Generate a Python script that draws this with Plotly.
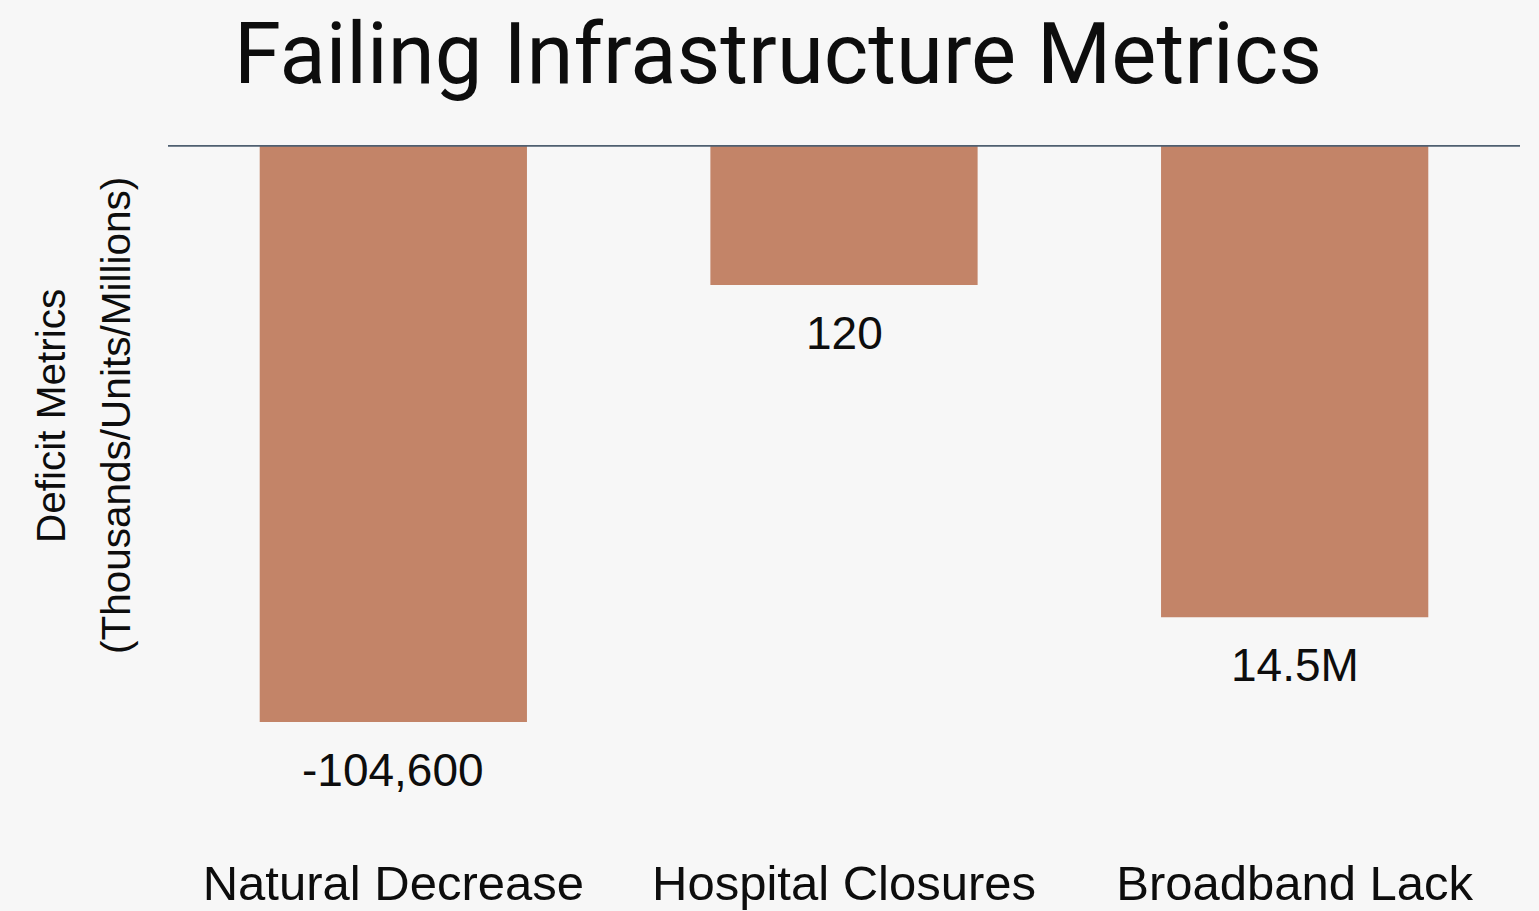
import plotly.graph_objects as go

categories = ["Natural Decrease", "Hospital Closures", "Broadband Lack"]
bar_values = [-104.6, -25.4, -85.6]
value_labels = ["-104,600", "120", "14.5M"]

title_text = "Failing Infrastructure Metrics"
y_title_lines = ["Deficit Metrics", "(Thousands/Units/Millions)"]

bar_color = "#C38468"
bg = "#F7F7F7"

PLOT_TOP, PLOT_BOTTOM = 145, 850

fig = go.Figure()
fig.add_trace(go.Bar(
    x=categories,
    y=bar_values,
    marker=dict(color=bar_color, line=dict(width=0)),
    width=0.593,
    hoverinfo="skip",
))

for c, v, t in zip(categories, bar_values, value_labels):
    fig.add_annotation(
        x=c, y=v, text=t, showarrow=False,
        xref="x", yref="y", yanchor="top", yshift=-20,
        font=dict(family="Liberation Sans, Arial, sans-serif", size=46, color="#0d0d0d"),
    )

for line_text, px_x in zip(y_title_lines, [51, 116]):
    fig.add_annotation(
        text=line_text, xref="paper", yref="paper",
        x=(px_x - 168) / 1352, y=(PLOT_BOTTOM - 416) / (PLOT_BOTTOM - PLOT_TOP),
        xanchor="center", yanchor="middle", textangle=-90, showarrow=False,
        font=dict(family="Liberation Sans, Arial, sans-serif", size=40.5, color="#0d0d0d"),
    )

fig.add_shape(type="line", xref="paper", yref="y", x0=0, x1=1, y0=0, y1=0,
              line=dict(color="#4F5F70", width=3.5), layer="above")

fig.update_layout(
    width=1539, height=911,
    paper_bgcolor=bg, plot_bgcolor=bg,
    margin=dict(l=168, r=19, t=PLOT_TOP, b=911 - PLOT_BOTTOM, autoexpand=False),
    showlegend=False,
    title=dict(text=title_text, x=0.5055, xref="container", xanchor="center",
               y=1 - 53/911, yref="container", yanchor="middle",
               font=dict(family="Roboto, Liberation Sans, sans-serif", size=85, color="#0d0d0d")),
    xaxis=dict(showgrid=False, zeroline=False, showline=False, ticks="", automargin=False,
               tickfont=dict(family="Liberation Sans, Arial, sans-serif", size=49, color="#0d0d0d")),
    yaxis=dict(range=[-127.8, 0], showgrid=False, zeroline=False, showline=False,
               showticklabels=False, ticks="", automargin=False),
)

fig.write_html("out.html", config={"displayModeBar": False},
               post_script="document.body.style.margin='0';")
